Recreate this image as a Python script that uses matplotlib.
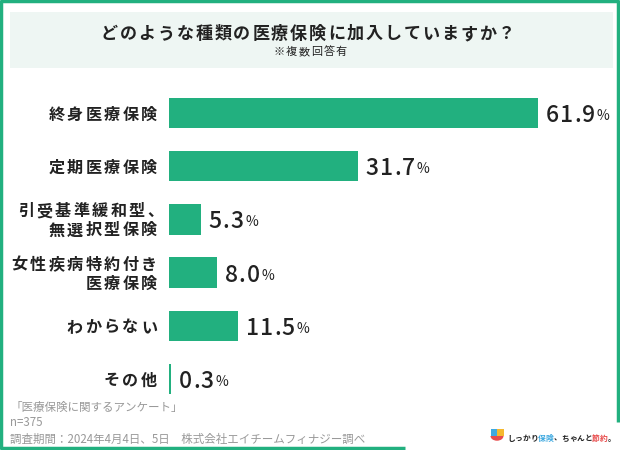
import matplotlib
matplotlib.use("Agg")
import matplotlib.pyplot as plt
from matplotlib.patches import Rectangle, Wedge
from matplotlib.lines import Line2D
from matplotlib.font_manager import FontProperties

plt.rcParams['font.family'] = ['Noto Sans CJK JP', 'DejaVu Sans']

categories = ['終身医療保険', '定期医療保険', '引受基準緩和型、\n無選択型保険',
              '女性疾病特約付き\n医療保険', 'わからない', 'その他']
values = [61.9, 31.7, 5.3, 8.0, 11.5, 0.3]
value_labels = ['61.9', '31.7', '5.3', '8.0', '11.5', '0.3']

title = 'どのような種類の医療保険に加入していますか？'
subtitle = '※複数回答有'
notes = ['「医療保険に関するアンケート」', 'n=375',
         '調査期間：2024年4月4日、5日　株式会社エイチームフィナジー調べ']

green = '#22B07F'
dark = '#222222'
W, H = 620, 450

fig = plt.figure(figsize=(6.2, 4.5), dpi=100)
fig.patch.set_facecolor('white')
fig.canvas.draw()
renderer = fig.canvas.get_renderer()

def px(x, y):
    # pixel coords (top-left origin) -> figure fraction
    return x / W, 1 - y / H

def spaced(x, y, s, size, track, ha='left', weight='normal', color=dark):
    # text with letter spacing, drawn char by char (pixel coords, top-left origin)
    fp = FontProperties(family=['Noto Sans CJK JP'], size=size, weight=weight)
    ws = [renderer.get_text_width_height_descent(c, fp, ismath=False)[0] for c in s]
    ws = [w * 0.6 if c == '、' and track > 0 else w for c, w in zip(s, ws)]
    total = sum(ws) + track * (len(s) - 1)
    if ha == 'right':
        x -= total
    elif ha == 'center':
        x -= total / 2
    for c, w in zip(s, ws):
        fig.text(*px(x, y), c, fontproperties=fp, ha='left',
                 va='center_baseline', color=color)
        x += w + track
    return x - track

# green frame with an opening at bottom right for the logo
frame = dict(color=green, lw=2.5, transform=fig.transFigure, solid_capstyle='butt')
fig.add_artist(Line2D([px(1, 0)[0], px(1, 0)[0]], [px(0, 0)[1], px(0, 449)[1]], **frame))
fig.add_artist(Line2D([px(0, 1)[0], px(619, 0)[0]], [px(0, 1)[1], px(0, 1)[1]], **frame))
fig.add_artist(Line2D([px(618, 0)[0], px(618, 0)[0]], [px(0, 0)[1], px(0, 422)[1]], **frame))
fig.add_artist(Line2D([px(0, 0)[0], px(405, 0)[0]], [px(0, 448)[1], px(0, 448)[1]], **frame))

# title box
x0, y0 = px(10, 68)
fig.add_artist(Rectangle((x0, y0), 603 / W, 56 / H, transform=fig.transFigure,
                         facecolor='#EEF6F3', edgecolor='none'))
spaced(308, 32, title, 12.3, 1.8, ha='center', weight='bold')
spaced(310, 51, subtitle, 8, 1.4, ha='center')

# bar axes
ax = fig.add_axes([169 / W, 44.5 / H, 417 / W, 319 / H])
ax.set_xlim(0, 70)
ax.set_ylim(len(values) - 0.5, -0.5)
ypos = list(range(len(values)))
ax.barh(ypos, values, height=0.57, color=green)
ax.axis('off')

def to_px(xd, yd):
    dx, dy = ax.transData.transform((xd, yd))
    return dx, H - dy

for y, v, lab in zip(ypos, values, value_labels):
    bx, by = to_px(v, y)
    end = spaced(bx + 8, by, lab, 16.5, 1.1, weight='medium')
    spaced(end + 1.5, by + 1.5, '%', 10, 0)
for y, c in zip(ypos, categories):
    bx, by = to_px(0, y)
    lines = c.split('\n')
    off = (len(lines) - 1) * 9.5
    for i, line in enumerate(lines):
        spaced(bx - 12, by - off + i * 19, line, 11.6, 2.4, ha='right',
               weight='bold')

# notes
for i, n in enumerate(notes):
    fig.text(*px(10, 407 + i * 16), n, ha='left', va='center', fontsize=8.3,
             color='#999999')

# logo
fig.add_artist(Wedge(px(497, 436), 6.5 / W, 180, 360, transform=fig.transFigure,
                     facecolor='#E84B4B', edgecolor='none'))
fig.add_artist(Rectangle(px(490.5, 436), 6.5 / W, 7 / H, transform=fig.transFigure,
                         facecolor='#3FA9E0', edgecolor='none'))
fig.add_artist(Rectangle(px(497, 436), 6.5 / W, 7 / H, transform=fig.transFigure,
                         facecolor='#F5B82E', edgecolor='none'))
parts = [('しっかり', dark), ('保険', '#3FA9E0'), ('、ちゃんと', dark),
         ('節約', '#E84B4B'), ('。', dark)]
cx = 507
for s, col in parts:
    cx = spaced(cx, 437, s, 5.6, 0, weight='bold', color=col)

fig.savefig('out.png', dpi=100, facecolor='white')
